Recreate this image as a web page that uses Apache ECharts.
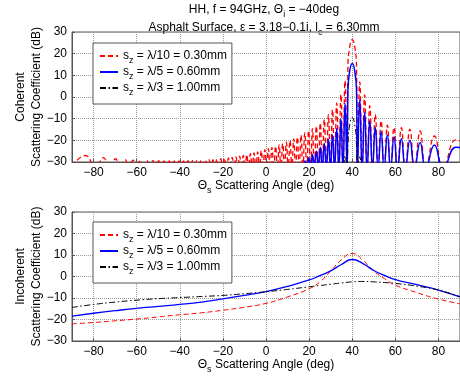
<!DOCTYPE html>
<html><head><meta charset="utf-8">
<script src="https://cdn.jsdelivr.net/npm/echarts@6/dist/echarts.min.js"></script>
<style>html,body{margin:0;padding:0;background:#fff}#c{width:460px;height:377px}</style>
</head><body><div id="c"></div>
<script>
// ---------- axis ticks ----------
const xTicks = [-80, -60, -40, -20, 0, 20, 40, 60, 80];
const yMin = -30, yMax = 30, yStep = 10;

// ---------- coherent (top) : lobe structure ----------
// estimated null angles (deg) between successive lobes
const lobeNullAngles = [-78.9, -72.2, -67.4, -63.4, -59.9, -56.7, -53.8, -51.1, -48.5, -46.1,
  -43.7, -41.5, -39.3, -37.2, -35.1, -33.1, -31.1, -29.2, -27.3, -25.5,
  -23.7, -21.9, -20.1, -18.3, -16.6, -14.8, -13.1, -11.4, -9.7, -8.1,
  -6.4, -4.7, -3.0, -1.4, 0.3, 1.9, 3.6, 5.3, 6.9, 8.6,
  10.3, 12.0, 13.7, 15.4, 17.1, 18.9, 20.7, 22.4, 24.3, 26.1,
  28.0, 29.9, 31.8, 33.8, 35.7, 37.6, 42.4, 44.6, 46.9, 49.4,
  52.0, 54.8, 57.8, 61.0, 64.6, 68.9, 74.1, 82.2];
// estimated lobe peak angles (deg); index 56 is the specular main lobe
const lobePeakAngles = [-83.8, -75.55, -69.8, -65.4, -61.65, -58.3, -55.25, -52.45, -49.8, -47.3,
  -44.9, -42.6, -40.4, -38.25, -36.15, -34.1, -32.1, -30.15, -28.25, -26.4,
  -24.6, -22.8, -21.0, -19.2, -17.45, -15.7, -13.95, -12.25, -10.55, -8.9,
  -7.25, -5.55, -3.85, -2.2, -0.55, 1.1, 2.75, 4.45, 6.1, 7.75,
  9.45, 11.15, 12.85, 14.55, 16.25, 18.0, 19.8, 21.55, 23.35, 25.2,
  27.05, 28.95, 30.85, 32.8, 34.75, 36.65, 40.0, 43.5, 45.75, 48.15,
  50.7, 53.4, 56.3, 59.4, 62.8, 66.75, 71.5, 78.15, 88.0];
const mainLobeIndex = 56;
const mainLobeAngles = [38.0, 38.75, 40.0, 41.25, 42.0];
const nullLevel = -33;   // lobe nulls fall below the -30 dB axis floor

// s_z = λ/10 : peak level of every lobe (dB)
const cohRedPeaks = [-27.0, -28.0, -28.5, -28.9, -29.1, -29.2, -29.3, -29.4, -29.4, -29.5,
  -29.5, -29.5, -29.5, -29.5, -29.4, -29.4, -29.3, -29.2, -29.1, -29.0,
  -28.9, -28.7, -28.5, -28.3, -28.1, -27.9, -27.6, -27.3, -27.0, -26.6,
  -26.2, -25.8, -25.3, -24.8, -24.3, -23.8, -23.3, -22.7, -22.1, -21.5,
  -20.8, -20.1, -19.3, -18.5, -17.6, -16.6, -15.6, -14.6, -13.4, -12.0,
  -10.3, -8.2, -5.8, -2.8, 1.2, 7.5, 26.5, 7.0, 1.0, -4.0,
  -8.0, -11.0, -13.0, -14.0, -14.2, -14.8, -15.7, -18.0, -19.8];
const cohRedMain = [13.5, 22.6, 26.5, 22.6, 13.5];
const cohRedEnds = [[-90, -32], [90, -20.2]];

// s_z = λ/5 : lobes from index 44 on
const cohBlueFirstLobe = 44;
const cohBluePeaks = [-31.0, -29.5, -28.0, -26.5, -25.0, -23.2, -21.5, -19.5, -17.5, -14.5,
  -10.0, -3.0, 15.5, -1.0, -7.0, -11.0, -14.0, -16.0, -17.5, -18.5,
  -19.3, -20.0, -21.0, -22.2, -23.2];
const cohBlueMain = [2.5, 11.6, 15.5, 11.6, 2.5];
const cohBlueEnd = [90, -23.3];

// s_z = λ/3 : lobes from index 54 on
const cohBlackFirstLobe = 54;
const cohBlackPeaks = [-31.0, -27.0, -9.5, -27.5, -31.0];
const cohBlackMain = [-22.5, -13.4, -9.5, -13.4, -22.5];

// ---------- incoherent (bottom) ----------
const incAngles = [-90, -80, -70, -60, -50, -40, -30, -20, -10, 0, 10, 20, 25, 30, 35, 40, 45, 50, 55, 60, 70, 80, 90];
const incRed =   [-22.0, -21.4, -20.6, -19.8, -18.8, -17.8, -16.9, -15.7, -14.3, -12.5, -9.5, -5.7, -2.5, 2.5, 7.8, 10.7, 7.5, 2.5, -1.0, -4.0, -7.5, -10.5, -12.7];
const incBlue =  [-18.4, -17.1, -15.9, -14.8, -13.9, -13.0, -11.9, -10.4, -8.8, -7.0, -4.6, -1.6, 0.4, 2.6, 5.6, 7.9, 6.0, 2.8, 0.5, -1.4, -3.8, -6.3, -9.5];
const incBlack = [-14.4, -13.0, -11.9, -11.0, -10.3, -9.8, -9.3, -8.8, -8.0, -7.1, -6.0, -4.8, -4.2, -3.6, -3.0, -2.5, -2.3, -2.5, -2.8, -3.2, -4.5, -6.3, -9.4];

// ---------- texts ----------
const titleLine1 = 'HH, f = 94GHz, \u0398{sub|i} = \u221240deg';
const titleLine2 = 'Asphalt Surface, \u03b5 = 3.18\u22120.1i, l{sub|c} = 6.30mm';
const legendLabels = {
  cr: 's{sub|z} = \u03bb/10 = 0.30mm', cb: 's{sub|z} = \u03bb/5 = 0.60mm', ck: 's{sub|z} = \u03bb/3 = 1.00mm',
  ir: 's{sub|z} = \u03bb/10 = 0.30mm', ib: 's{sub|z} = \u03bb/5 = 0.60mm', ik: 's{sub|z} = \u03bb/3 = 1.00mm'
};
const xName = '\u0398{sub|s} Scattering Angle (deg)';

// ---------- build lobe polylines ----------
function lobeSeries(firstLobe, peaks, mainVals, startPt, endPt) {
  const pts = [];
  if (startPt) pts.push(startPt);
  else pts.push([lobeNullAngles[firstLobe - 1], nullLevel]);
  for (let k = 0; k < peaks.length; k++) {
    const i = firstLobe + k;
    if (i === mainLobeIndex) mainLobeAngles.forEach((a, j) => pts.push([a, mainVals[j]]));
    else pts.push([lobePeakAngles[i], peaks[k]]);
    if (k < peaks.length - 1 || !endPt) {
      if (i < lobeNullAngles.length) pts.push([lobeNullAngles[i], nullLevel]);
    }
  }
  if (endPt) pts.push(endPt);
  return pts;
}
const zip = (a, b) => a.map((v, i) => [v, b[i]]);

const FONT = 'Liberation Sans';
const rich = {
  sub: { fontSize: 9, fontFamily: FONT, color: '#000', padding: [6, 0, 0, 0], verticalAlign: 'top', lineHeight: 10 }
};
const minus = v => (v < 0 ? '\u2212' + (-v) : '' + v);

const RED = '#ff0000', BLUE = '#0000ff', BLACK = '#000000';
const dash = [5, 3], dashDot = [6, 2.5, 1.5, 2.5];

function xAxisCfg(gi) {
  return {
    type: 'value', gridIndex: gi, min: -90, max: 90,
    axisLine: { show: true, onZero: false, lineStyle: { color: '#555' } },
    axisTick: { show: true, inside: true, length: 3, customValues: xTicks, lineStyle: { color: '#555' } },
    axisLabel: { customValues: xTicks, formatter: minus, color: '#000', fontSize: 12, fontFamily: FONT, margin: 5 },
    splitLine: { show: true, lineStyle: { color: '#999999', width: 1, type: 'dotted' } },
    name: xName, nameLocation: 'middle', nameGap: 18, nameMoveOverlap: false,
    nameTextStyle: { color: '#000', fontSize: 12, fontFamily: FONT, rich }
  };
}
function yAxisCfg(gi, label) {
  return {
    type: 'value', gridIndex: gi, min: yMin, max: yMax, interval: yStep,
    axisLine: { show: true, onZero: false, lineStyle: { color: '#555' } },
    axisTick: { show: true, inside: true, length: 3, lineStyle: { color: '#555' } },
    axisLabel: { formatter: minus, color: '#000', fontSize: 12, fontFamily: FONT, margin: 5 },
    splitLine: { show: true, lineStyle: { color: '#999999', width: 1, type: 'dotted' } },
    name: label + '\nScattering Coefficient (dB)', nameLocation: 'middle', nameGap: 27, nameMoveOverlap: false,
    nameTextStyle: { color: '#000', fontSize: 12, fontFamily: FONT, lineHeight: 16 }
  };
}
function legendCfg(top, names) {
  return {
    orient: 'vertical', left: 93, top: top, data: names,
    formatter: n => legendLabels[n],
    itemWidth: 18, itemHeight: 10, itemGap: 1,
    padding: [7, 5, 7, 6],
    itemStyle: { opacity: 0 },
    borderColor: '#555', borderWidth: 1, backgroundColor: '#fff',
    textStyle: { color: '#000', fontSize: 12, fontFamily: FONT, rich }
  };
}

const chart = echarts.init(document.getElementById('c'), null, { renderer: 'canvas' });
chart.setOption({
  animation: false,
  backgroundColor: '#fff',
  graphic: [
    { type: 'text', x: 264, y: 4, style: { text: titleLine1, rich, font: '12px ' + FONT, fill: '#000', align: 'center' } },
    { type: 'text', x: 264, y: 22, style: { text: titleLine2, rich, font: '12px ' + FONT, fill: '#000', align: 'center' } }
  ],
  grid: [
    { left: 72, top: 32, width: 389, height: 130, show: true, borderColor: '#555', borderWidth: 1 },
    { left: 72, top: 212, width: 389, height: 129, show: true, borderColor: '#555', borderWidth: 1 }
  ],
  xAxis: [xAxisCfg(0), xAxisCfg(1)],
  yAxis: [yAxisCfg(0, 'Coherent'), yAxisCfg(1, 'Incoherent')],
  legend: [legendCfg(43, ['cr', 'cb', 'ck']), legendCfg(222, ['ir', 'ib', 'ik'])],
  series: [
    { name: 'cr', type: 'line', xAxisIndex: 0, yAxisIndex: 0, symbol: 'none', smooth: 0.5,
      data: lobeSeries(0, cohRedPeaks, cohRedMain, cohRedEnds[0], cohRedEnds[1]),
      lineStyle: { color: RED, width: 1.3, type: dash }, itemStyle: { color: RED }, z: 2 },
    { name: 'cb', type: 'line', xAxisIndex: 0, yAxisIndex: 0, symbol: 'none', smooth: 0.5,
      data: lobeSeries(cohBlueFirstLobe, cohBluePeaks, cohBlueMain, null, cohBlueEnd),
      lineStyle: { color: BLUE, width: 1.5 }, itemStyle: { color: BLUE }, z: 3 },
    { name: 'ck', type: 'line', xAxisIndex: 0, yAxisIndex: 0, symbol: 'none', smooth: 0.5,
      data: lobeSeries(cohBlackFirstLobe, cohBlackPeaks, cohBlackMain, null, null),
      lineStyle: { color: BLACK, width: 1, type: dashDot }, itemStyle: { color: BLACK }, z: 4 },
    { name: 'ir', type: 'line', xAxisIndex: 1, yAxisIndex: 1, symbol: 'none', smooth: true,
      data: zip(incAngles, incRed), lineStyle: { color: RED, width: 1, type: dash }, itemStyle: { color: RED } },
    { name: 'ib', type: 'line', xAxisIndex: 1, yAxisIndex: 1, symbol: 'none', smooth: true,
      data: zip(incAngles, incBlue), lineStyle: { color: BLUE, width: 1.3 }, itemStyle: { color: BLUE } },
    { name: 'ik', type: 'line', xAxisIndex: 1, yAxisIndex: 1, symbol: 'none', smooth: true,
      data: zip(incAngles, incBlack), lineStyle: { color: BLACK, width: 1, type: dashDot }, itemStyle: { color: BLACK } }
  ]
});
</script></body></html>
